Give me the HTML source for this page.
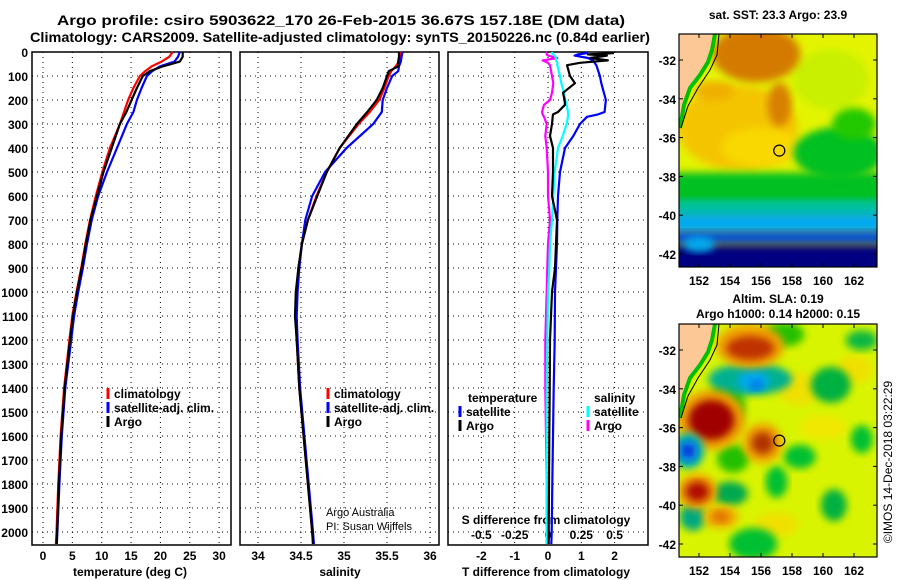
<!DOCTYPE html>
<html><head><meta charset="utf-8">
<style>
html,body{margin:0;padding:0;background:#fff;}
svg{display:block;font-family:"Liberation Sans",sans-serif;font-weight:bold;}
</style></head>
<body>
<svg id="fig" width="900" height="580" viewBox="0 0 900 580" xmlns="http://www.w3.org/2000/svg">
<defs>
<filter id="bl" x="-20%" y="-20%" width="140%" height="140%"><feGaussianBlur stdDeviation="4"/></filter>
<filter id="bl2" x="-30%" y="-30%" width="160%" height="160%"><feGaussianBlur stdDeviation="6"/></filter>
<clipPath id="clipTop"><rect x="679" y="34" width="198" height="233"/></clipPath>
<clipPath id="clipBot"><rect x="679" y="324" width="198" height="233"/></clipPath>
</defs>
<text x="341" y="25" font-size="14" text-anchor="middle" textLength="568" lengthAdjust="spacingAndGlyphs">Argo profile: csiro 5903622_170 26-Feb-2015 36.67S 157.18E (DM data)</text>
<text x="340" y="42" font-size="14" text-anchor="middle" textLength="620" lengthAdjust="spacingAndGlyphs">Climatology: CARS2009. Satellite-adjusted climatology: synTS_20150226.nc (0.84d earlier)</text>
<g id="plots"></g>
<g id="maps"></g>
<text transform="translate(892,462) rotate(-90)" font-size="12" font-weight="normal" text-anchor="middle">©IMOS 14-Dec-2018 03:22:29</text>
</svg>
<script>
// ---- Data ----
const depthT = [0,20,40,60,80,100,150,200,250,300,400,500,600,700,800,900,1000,1100,1200,1400,1600,1800,2000,2050];
const tempArgo = [23.8,23.8,23.3,20.4,18.2,17.0,16.0,15.1,14.2,13.1,11.7,10.3,9.2,8.1,7.3,6.6,5.8,5.1,4.6,3.7,3.1,2.7,2.4,2.3];
const tempClim = [22.1,21.5,20.2,18.5,17.4,16.5,15.4,14.5,13.8,13.1,11.4,10.1,9.0,8.0,7.2,6.5,5.7,5.0,4.5,3.6,3.0,2.6,2.3,2.2];
const tempSat = [23.3,23.0,22.4,19.9,18.6,17.7,16.8,16.0,15.4,14.3,12.6,10.9,9.4,8.3,7.5,6.8,6.0,5.3,4.8,3.8,3.2,2.8,2.45,2.35];
const salArgo = [35.64,35.64,35.63,35.63,35.52,35.50,35.45,35.38,35.27,35.15,34.95,34.80,34.69,34.58,34.51,34.47,34.44,34.43,34.45,34.48,34.53,34.58,34.63,34.64];
const salClim = [35.66,35.65,35.64,35.60,35.55,35.52,35.47,35.41,35.30,35.17,34.95,34.80,34.68,34.58,34.51,34.47,34.45,34.44,34.45,34.48,34.53,34.58,34.63,34.64];
const salSat = [35.68,35.67,35.66,35.64,35.63,35.56,35.50,35.45,35.44,35.34,35.03,34.78,34.63,34.55,34.51,34.48,34.46,34.45,34.46,34.49,34.54,34.59,34.64,34.65];
const depthD = [0,5,10,15,25,35,45,55,100,130,170,200,220,250,260,270,300,350,400,500,600,700,800,900,1000,1200,1400,1600,1800,2000,2050];
const dTsat = [1.1,1.17,0.9,0.8,1.2,1.35,1.4,1.45,1.56,1.6,1.68,1.74,1.72,1.7,1.5,1.17,0.96,0.76,0.51,0.36,0.3,0.28,0.27,0.24,0.21,0.2,0.17,0.15,0.13,0.11,0.1];
const dTargo = [1.9,1.95,1.2,1.77,1.26,1.8,0.96,0.57,0.66,0.81,0.45,0.5,0.51,0.3,0.15,0.14,0.12,0.06,0.15,0.15,0.12,0.27,0.24,0.21,0.12,0.06,0.05,0.04,0.03,0.02,0.02];
const dSsat = [0.03,0.03,0.04,0.05,0.06,0.06,0.07,0.07,0.09,0.1,0.12,0.13,0.14,0.15,0.15,0.15,0.14,0.11,0.075,0.05,0.04,0.03,0.015,0.01,0,-0.005,-0.01,-0.01,-0.01,-0.01,-0.01];
const dSargo = [-0.015,-0.01,-0.01,0.0,0.07,-0.04,0.0,0.015,0.03,0.04,0.03,0.015,-0.03,-0.045,-0.04,-0.03,-0.01,-0.02,-0.01,0,0,0.015,0,-0.005,-0.01,-0.02,-0.02,-0.015,-0.01,-0.01,-0.01];
const tempTicks = [0,5,10,15,20,25,30];
const salTicks = [34,34.5,35,35.5,36];
const tdTicks = [-2,-1,0,1,2];
const sdTicks = [-0.5,-0.25,0,0.25,0.5];
const sdTickLabels = ["-0.5","-0.25","0","0.25","0.5"];
const depthTicks = [0,100,200,300,400,500,600,700,800,900,1000,1100,1200,1300,1400,1500,1600,1700,1800,1900,2000];
const lonTicks = [152,154,156,158,160,162];
const latTicks = [-32,-34,-36,-38,-40,-42];

const NS="http://www.w3.org/2000/svg";
function mk(tag,attrs,parent,text){const e=document.createElementNS(NS,tag);for(const k in attrs)e.setAttribute(k,attrs[k]);if(text!==undefined)e.textContent=text;parent.appendChild(e);return e;}
const plots=document.getElementById('plots');
const TOP=52,BOT=545;
const yD=d=>TOP+d*0.24;
const xT=t=>43+t*5.87;
const xS=s=>258+(s-34)*86;
const xTD=t=>548+t*33.3;
const xSD=s=>548+s*133.2;

function panel(x0,x1,name,vt,xf){
  const g=mk('g',{},plots);
  
  
  vt.forEach(v=>{const x=xf(v);const l=mk('line',{x1:x,x2:x,y1:TOP,y2:BOT,stroke:'#000','stroke-width':1,'stroke-dasharray':'1,4'},g);
    });
  depthTicks.slice(1).forEach(d=>{const y=yD(d);const l=mk('line',{x1:x0,x2:x1,y1:y,y2:y,stroke:'#000','stroke-width':1,'stroke-dasharray':'1,4'},g);
    });
  const r=mk('rect',{x:x0,y:TOP,width:x1-x0,height:BOT-TOP,fill:'none',stroke:'#000','stroke-width':1.5},g);
  
  return g;
}
function line(g,xs,ds,xf,col,name,w){
  const pts=xs.map((v,i)=>xf(v).toFixed(1)+','+yD(ds[i]).toFixed(1)).join(' ');
  const p=mk('polyline',{points:pts,fill:'none',stroke:col,'stroke-width':w||2.2,'stroke-linejoin':'round'},g);
  
}
function txt(g,x,y,s,name,opts){const t=mk('text',Object.assign({x:x,y:y,'font-size':12},opts||{}),g,s);return t;}
function legendEntry(g,x,y,col,label,name){
  const l=mk('line',{x1:x,x2:x,y1:y-10,y2:y+1,stroke:col,'stroke-width':3},g);
  
  txt(g,x+6,y,label,name);
}

// Panel 1
const p1=panel(32,231,'temperature-panel',tempTicks,xT);
depthTicks.forEach(d=>txt(p1,28,yD(d)+5,String(d),'depth-tick-label',{'text-anchor':'end'}));
tempTicks.forEach(t=>txt(p1,xT(t),560,String(t),'temp-tick-label',{'text-anchor':'middle'}));
txt(p1,130,576,'temperature (deg C)','x-axis-title-temperature',{'text-anchor':'middle'});
line(p1,tempClim,depthT,xT,'#ff0000','clim-temp-line');
line(p1,tempSat,depthT,xT,'#0000ff','sat-temp-line');
line(p1,tempArgo,depthT,xT,'#000000','argo-temp-line');
legendEntry(p1,108,398,'#ff0000','climatology','legend-climatology');
legendEntry(p1,108,412,'#0000ff','satellite-adj. clim.','legend-satellite');
legendEntry(p1,108,426,'#000000','Argo','legend-argo');

// Panel 2
const p2=panel(240,439,'salinity-panel',salTicks,xS);
salTicks.forEach(s=>txt(p2,xS(s),560,String(s),'salinity-tick-label',{'text-anchor':'middle'}));
txt(p2,340,576,'salinity','x-axis-title-salinity',{'text-anchor':'middle'});
line(p2,salClim,depthT,xS,'#ff0000','clim-sal-line');
line(p2,salSat,depthT,xS,'#0000ff','sat-sal-line');
line(p2,salArgo,depthT,xS,'#000000','argo-sal-line');
legendEntry(p2,328,398,'#ff0000','climatology','legend-climatology');
legendEntry(p2,328,412,'#0000ff','satellite-adj. clim.','legend-satellite');
legendEntry(p2,328,426,'#000000','Argo','legend-argo');
txt(p2,326,516,'Argo Australia','credit-argo-australia',{'font-weight':'normal','font-size':11});
txt(p2,326,530,'PI: Susan Wijffels','credit-pi',{'font-weight':'normal','font-size':11});

// Panel 3
const p3=panel(448,648,'difference-panel',tdTicks,xTD);
tdTicks.forEach(t=>txt(p3,xTD(t),560,String(t),'tdiff-tick-label',{'text-anchor':'middle'}));
sdTicks.forEach((s,i)=>txt(p3,xSD(s),539,sdTickLabels[i],'sdiff-tick-label',{'text-anchor':'middle'}));
txt(p3,546,524,'S difference from climatology','s-diff-axis-title',{'text-anchor':'middle'});
txt(p3,546,576,'T difference from climatology','t-diff-axis-title',{'text-anchor':'middle'});
line(p3,dSargo,depthD,xSD,'#ff00ff','argo-sal-diff-line');
line(p3,dSsat,depthD,xSD,'#00ffff','sat-sal-diff-line');
line(p3,dTsat,depthD,xTD,'#0000ff','sat-temp-diff-line');
line(p3,dTargo,depthD,xTD,'#000000','argo-temp-diff-line');
txt(p3,468,402,'temperature','legend-temperature-header');
legendEntry(p3,460,416,'#0000ff','satellite','legend-temp-satellite');
legendEntry(p3,460,430,'#000000','Argo','legend-temp-argo');
txt(p3,594,402,'salinity','legend-salinity-header');
legendEntry(p3,588,416,'#00ffff','satellite','legend-sal-satellite');
legendEntry(p3,588,430,'#ff00ff','Argo','legend-sal-argo');

// ---- Maps ----
const maps=document.getElementById('maps');
const mxL=lon=>699+(lon-152)*15.5;
const myT=lat=>60+(-32-lat)*19.4;
function mapFrame(y0,name,drawFn){
  const g=mk('g',{},maps);
  const clip=y0===34?'url(#clipTop)':'url(#clipBot)';
  const c=mk('g',{'clip-path':clip},g);
  drawFn(c,y0-34);
  const off=y0-34;
  const land=mk('polygon',{points:`679,${34+off} 715,${34+off} 712,${50+off} 708,${62+off} 700,${75+off} 690,${88+off} 684,${105+off} 680,${128+off} 679,${128+off}`,fill:'#fbc896'},c);
  
  mk('polyline',{points:`715,${34+off} 712,${50+off} 708,${62+off} 700,${75+off} 690,${88+off} 684,${105+off} 680,${128+off}`,fill:'none',stroke:'#00c000','stroke-width':4},c);
  mk('polyline',{points:`719,${34+off} 717,${55+off} 710,${70+off} 698,${88+off} 688,${106+off} 681,${128+off}`,fill:'none',stroke:'#000','stroke-width':1},c);
  mk('rect',{x:679,y:y0,width:198,height:233,fill:'none',stroke:'#000','stroke-width':1.2},g);
  lonTicks.forEach(l=>{const x=mxL(l);mk('line',{x1:x,x2:x,y1:y0,y2:y0+4,stroke:'#000'},g);mk('line',{x1:x,x2:x,y1:y0+233,y2:y0+229,stroke:'#000'},g);
    txt(g,x,y0+251,String(l),'lon-tick-label',{'text-anchor':'middle'});});
  latTicks.forEach(l=>{const y=myT(l)+off;mk('line',{x1:877,x2:873,y1:y,y2:y,stroke:'#000'},g);mk('line',{x1:679,x2:683,y1:y,y2:y,stroke:'#000'},g);
    txt(g,676,y+5,String(l),'lat-tick-label',{'text-anchor':'end'});});
  const mk2=mk('circle',{cx:mxL(157.18),cy:myT(-36.67)+off,r:5.5,fill:'none',stroke:'#000','stroke-width':1.2},g);
  
  return g;
}
function blob(g,lon,lat,rx,ry,col,f,off){mk('ellipse',{cx:mxL(lon),cy:myT(lat)+off,rx:rx,ry:ry,fill:col,filter:f||'url(#bl)'},g);}
function band(g,lat1,lat2,col,off){mk('rect',{x:660,y:myT(lat1)+off,width:240,height:myT(lat2)-myT(lat1),fill:col,filter:'url(#bl)'},g);}

mapFrame(34,'sst-map',(c,off)=>{
  mk('rect',{x:679,y:34,width:198,height:233,fill:'#e4f400'},c);
  blob(c,154.5,-35.5,60,42,'#f4c400',null,off);
  blob(c,156,-36.5,40,20,'#f8d800',null,off);
  blob(c,160.5,-33,38,30,'#c8f000',null,off);
  blob(c,155.7,-31.7,44,28,'#d47a00',null,off);
  blob(c,157.2,-34.3,12,22,'#d88000',null,off);
  blob(c,153,-33.6,20,10,'#f0b000',null,off);
  band(c,-37.8,-40.0,'#00c020',off);
  blob(c,161,-36.8,45,26,'#00c020',null,off);
  blob(c,162,-35.3,22,16,'#20c800',null,off);
  band(c,-39.2,-40.1,'#00c0a0',off);
  band(c,-39.9,-40.9,'#00a8f0',off);
  band(c,-40.8,-41.5,'#0050d8',off);
  band(c,-41.5,-43.5,'#000080',off);
  blob(c,152,-41.5,16,8,'#00a8f0',null,off);
});
txt(maps,778,19,'sat. SST: 23.3 Argo: 23.9','sst-map-title',{'text-anchor':'middle'});

mapFrame(324,'sla-map',(c,off)=>{
  mk('rect',{x:679,y:324,width:198,height:233,fill:'#d8f400'},c);
  const b=(lon,lat,rx,ry,col,f)=>blob(c,lon,lat,rx,ry,col,f,off);
  b(158.5,-34,22,16,'#f0e000');b(162,-33,18,14,'#f0e000');b(157,-41,22,12,'#f0e000');b(160,-36,24,12,'#f0e800');
  b(160.5,-33.8,20,18,'#00b040');b(162.5,-31.5,16,10,'#10b840');b(158.5,-37.5,16,12,'#00c030');
  b(157,-38.8,11,16,'#00c030');b(154,-39.4,18,12,'#00a850');b(160.7,-40,13,16,'#00b040');
  b(162.5,-36.6,11,14,'#00c030');b(155.5,-42,24,16,'#00c030');b(151.6,-40.6,13,14,'#00a880');
  b(154.2,-37.6,16,14,'#20c000');b(153.8,-34.8,18,24,'#20c000');b(157.5,-31.2,20,12,'#20c000');
  b(155.3,-33.5,42,16,'#00b090');b(155.5,-33.6,16,10,'#00a8f0');b(155.7,-33.8,6,5,'#0070e8');
  b(155.3,-31.8,34,22,'#f0a000');b(155.3,-31.9,24,12,'#c03000');
  b(152.8,-35.6,34,30,'#f0a000');b(152.8,-35.6,23,20,'#a00000');
  b(151.3,-37.2,16,18,'#00b0b0');b(151.3,-37.2,9,10,'#1060f0');b(151.3,-37.2,4,4,'#0020c0');
  b(156.1,-36.8,20,20,'#f0a000');b(156.1,-36.8,11,11,'#b03000');
  b(151.9,-39.3,20,18,'#f0a000');b(151.9,-39.3,12,10,'#b01000');
  b(153.4,-40.6,18,12,'#f0b000');b(153.4,-40.6,9,6,'#e07000');
});
txt(maps,778,303,'Altim. SLA: 0.19','sla-map-title-1',{'text-anchor':'middle'});
txt(maps,778,318,'Argo h1000: 0.14 h2000: 0.15','sla-map-title-2',{'text-anchor':'middle'});
</script>
</body></html>
